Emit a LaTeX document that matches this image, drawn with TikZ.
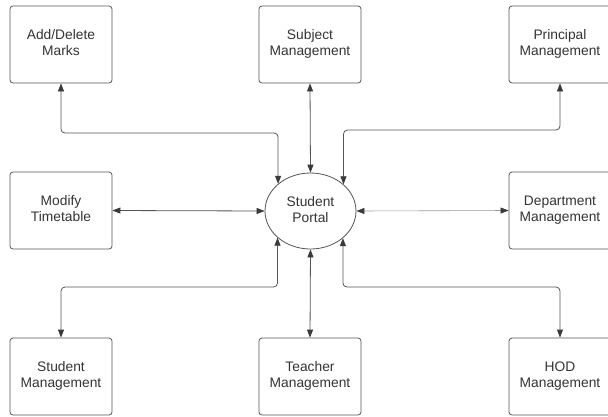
\documentclass[tikz,border=0pt]{standalone}
\usepackage{fontspec}
\setmainfont{Liberation Sans}
\usetikzlibrary{arrows.meta,shapes.geometric}
\definecolor{edge}{HTML}{555555}
\definecolor{txt}{HTML}{333333}
\definecolor{tip}{HTML}{3A3A3A}
\newcommand\twoline[2]{\begin{tabular}{@{}c@{}}#1\\#2\end{tabular}}
\begin{document}
\begin{tikzpicture}[x=1pt,y=-1pt,
  box/.style={draw=edge, line width=0.8pt, rounded corners=3pt, minimum width=102pt, minimum height=77pt, inner sep=0pt, text=txt, font=\fontsize{13.8}{16.4}\selectfont},
  portal/.style={draw=edge, line width=0.8pt, ellipse, minimum width=91pt, minimum height=76pt, inner sep=0pt, text=txt, font=\fontsize{13.8}{16.4}\selectfont},
  conn/.style={draw=edge, line width=0.8pt, rounded corners=4pt, {Triangle[length=8pt,width=6pt,fill=tip,color=tip]}-{Triangle[length=8pt,width=6pt,fill=tip,color=tip]}},
  light/.style={draw=edge!60, line width=0.6pt}]
\useasboundingbox (0,0) rectangle (608,416);
\node[box] (adm) at (61,44.5) {\twoline{Add/Delete}{Marks}};
\node[box] (sub) at (310,44.5) {\twoline{Subject}{Management}};
\node[box] (pri) at (560,44.5) {\twoline{Principal}{Management}};
\node[box] (mod) at (61,210.5) {\twoline{Modify}{Timetable}};
\node[portal] (sp) at (310.5,211) {\twoline{Student}{Portal}};
\node[box] (dep) at (560,210.5) {\twoline{Department}{Management}};
\node[box] (stu) at (61,376.5) {\twoline{Student}{Management}};
\node[box] (tea) at (310,376.5) {\twoline{Teacher}{Management}};
\node[box] (hod) at (560,376.5) {\twoline{HOD}{Management}};
\coordinate (ytop) at (0,133);
\coordinate (ytopr) at (0,130);
\coordinate (ybot) at (0,287);
\draw[conn] (adm.south) -- (adm.south |- ytop) -| (sp.140.7);
\draw[conn] (sub.south) -- (sp.north);
\draw[conn] (pri.south) -- (pri.south |- ytopr) -| (sp.39.3);
\draw[conn] (mod.east) -- (sp.west);
\draw[conn,light] (sp.east) -- (dep.west);
\draw[conn] (stu.north) -- (stu.north |- ybot) -| (sp.219.3);
\draw[conn] (tea.north) -- (sp.south);
\draw[conn] (hod.north) -- (hod.north |- ybot) -| (sp.320.7);
\end{tikzpicture}
\end{document}
